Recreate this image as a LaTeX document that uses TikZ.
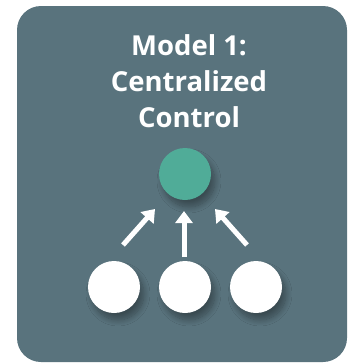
\documentclass[tikz,border=0pt]{standalone}
\usepackage{fontspec}
\setmainfont{Open Sans}
\usetikzlibrary{arrows.meta,shadows.blur}
\definecolor{panel}{RGB}{89,115,125}
\definecolor{hub}{RGB}{80,172,152}
\tikzset{
  dot/.style={circle, minimum size=52pt, inner sep=0pt, draw=none,
    blur shadow={shadow xshift=4pt, shadow yshift=-7pt, shadow blur steps=10, shadow blur radius=6pt, shadow opacity=35}},
  upar/.style={white, line width=5pt, -{Triangle[length=12pt,width=17pt]}},
  title/.style={text=white, font=\bfseries\fontsize{27.5}{36}\selectfont, align=center}
}
\begin{document}
\begin{tikzpicture}[x=1pt,y=-1pt]
\useasboundingbox (0,0) rectangle (348,364);
\fill[white] (0,0) rectangle (348,364);
\fill[panel, rounded corners=24pt] (17,6) rectangle (347,362);
\node[title] (t) at (189,81) {Model 1:\\Centralized\\Control};
\node[dot, fill=hub] (c) at (185,174) {};
\node[dot, fill=white] (a) at (114,287) {};
\node[dot, fill=white] (b) at (185,287) {};
\node[dot, fill=white] (d) at (256,287) {};
\coordinate (a0) at (123,245); \coordinate (a1) at (155,209);
\coordinate (b0) at (184,257); \coordinate (b1) at (184,211);
\coordinate (d0) at (247,245); \coordinate (d1) at (215,209);
\draw[upar] (a0) -- (a1);
\draw[upar] (b0) -- (b1);
\draw[upar] (d0) -- (d1);
\end{tikzpicture}
\end{document}
